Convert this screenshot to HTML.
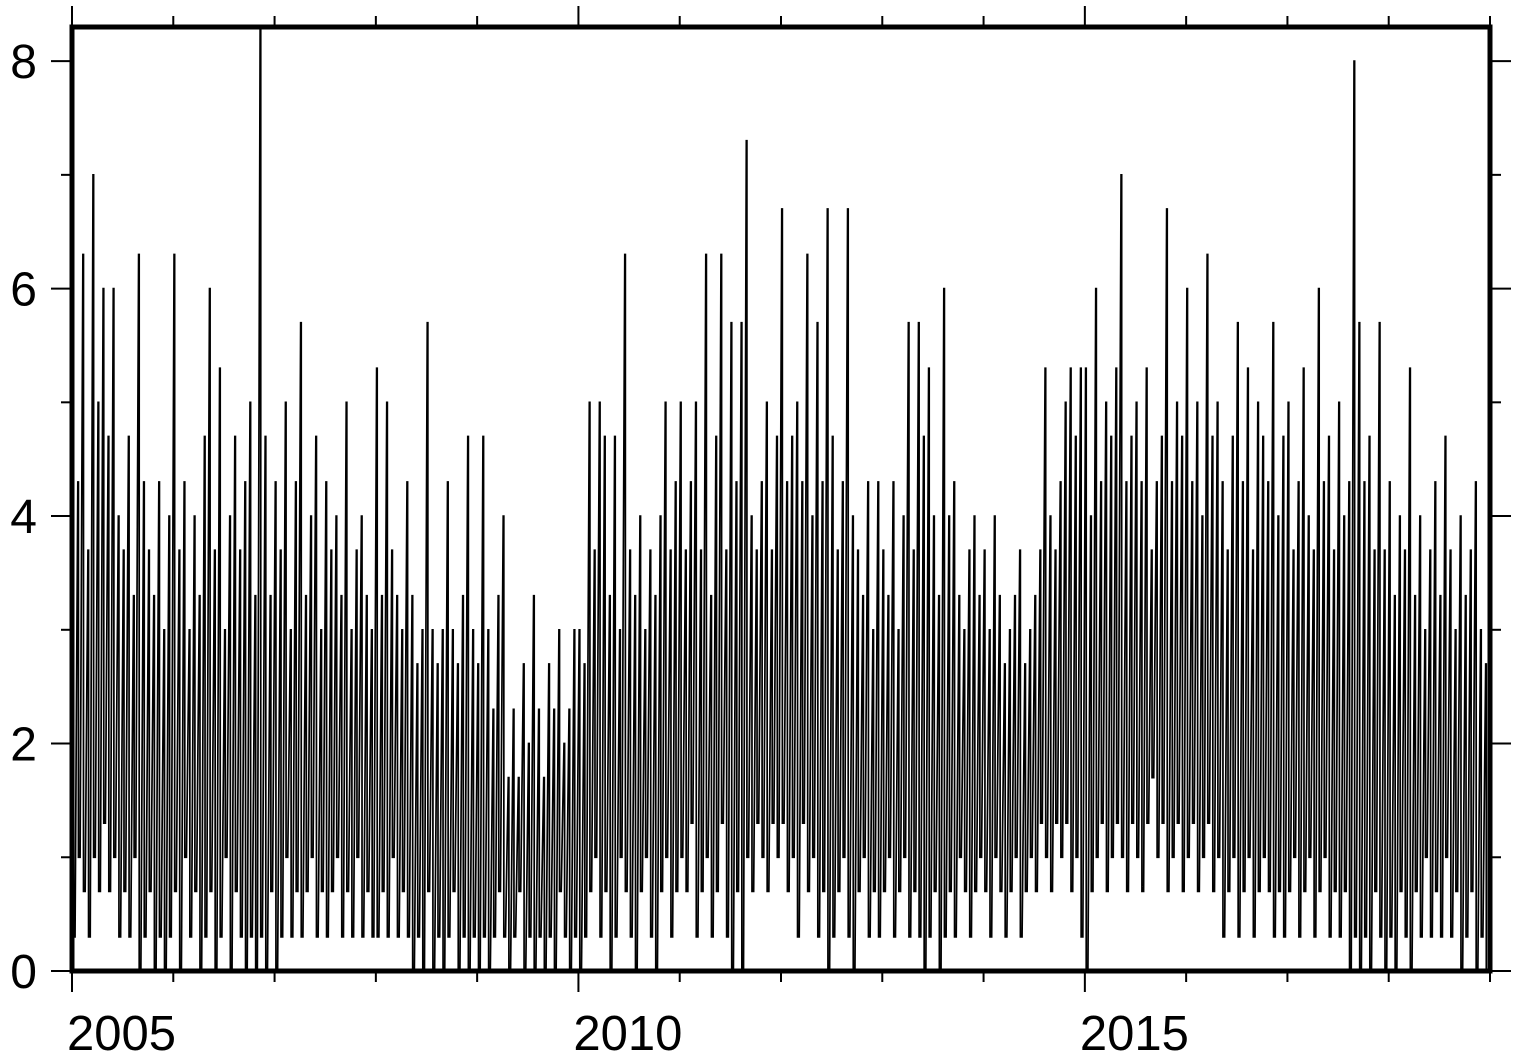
<!DOCTYPE html>
<html><head><meta charset="utf-8"><style>
html,body{margin:0;padding:0;background:#fff;}
svg{display:block;font-family:"Liberation Sans",Arial,sans-serif;}
</style></head><body>
<svg id="chart" width="1516" height="1055" viewBox="0 0 1516 1055" xmlns="http://www.w3.org/2000/svg">
<g id="plot"></g>
<g id="axes"></g>
</svg>
<script>
const xTickLabels = ["2005","2010","2015"];
const yTickLabels = ["0","2","4","6","8"];
const highs = [
7.0,4.3,6.3,3.7,7.0,5.0,6.0,4.7,6.0,4.0,3.7,4.7,3.3,6.3,4.3,3.7,3.3,4.3,3.0,4.0,
6.3,3.7,4.3,3.0,4.0,3.3,4.7,6.0,3.7,5.3,3.0,4.0,4.7,3.7,4.3,5.0,3.3,8.3,4.7,3.3,
4.3,3.7,5.0,3.0,4.3,5.7,3.3,4.0,4.7,3.0,4.3,3.7,4.0,3.3,5.0,3.0,3.7,4.0,3.3,3.0,
5.3,3.3,5.0,3.7,3.3,3.0,4.3,3.3,2.7,3.0,5.7,3.0,2.7,3.0,4.3,3.0,2.7,3.3,4.7,3.0,
2.7,4.7,3.0,2.3,3.3,4.0,1.7,2.3,1.7,2.7,2.0,3.3,2.3,1.7,2.7,2.3,3.0,2.0,2.3,3.0,
3.0,2.7,5.0,3.7,5.0,4.7,3.3,4.7,3.0,6.3,3.7,3.3,4.0,3.0,3.7,3.3,4.0,5.0,3.7,4.3,
5.0,3.7,4.3,5.0,3.7,6.3,3.3,4.7,6.3,3.7,5.7,4.3,5.7,7.3,4.0,3.7,4.3,5.0,3.7,4.7,
6.7,4.3,4.7,5.0,4.3,6.3,4.0,5.7,4.3,6.7,4.7,3.7,4.3,6.7,4.0,3.7,3.3,4.3,3.0,4.3,
3.7,3.3,4.3,3.0,4.0,5.7,3.7,5.7,4.7,5.3,4.0,3.3,6.0,4.0,4.3,3.3,3.0,3.7,4.0,3.3,
3.7,3.0,4.0,3.3,2.7,3.0,3.3,3.7,2.7,3.0,3.3,3.7,5.3,4.0,3.7,4.3,5.0,5.3,4.7,5.3,
5.3,4.0,6.0,4.3,5.0,4.7,5.3,7.0,4.3,4.7,5.0,4.3,5.3,3.7,4.3,4.7,6.7,4.3,5.0,4.7,
6.0,4.3,5.0,4.0,6.3,4.7,5.0,4.3,3.7,4.7,5.7,4.3,5.3,3.7,5.0,4.7,4.3,5.7,4.0,4.7,
5.0,3.7,4.3,5.3,4.0,3.7,6.0,4.3,4.7,3.7,5.0,4.0,4.3,8.0,5.7,4.3,4.7,3.7,5.7,3.7,
4.3,3.3,4.0,3.7,5.3,3.3,4.0,3.0,3.7,4.3,3.3,4.7,3.7,3.0,4.0,3.3,3.7,4.3,3.0,2.7];
const lows = [
0.3,1.0,0.7,0.3,1.0,0.7,1.3,0.7,1.0,0.3,0.7,0.3,1.0,0,0.3,0.7,0,0.3,0,0.3,
0.7,0,1.0,0.3,0.7,0,0.3,0.7,0,0.3,1.0,0,0.7,0.3,0,0.3,0,0.3,0,0.7,
0,0.3,1.0,0.3,0.7,0.3,0.7,1.0,0.3,0.7,0.3,0.7,1.0,0.3,0.7,0.3,1.0,0.3,0.7,0.3,
0.3,0.7,0.3,1.0,0.3,0.7,0.3,0,0.3,0,0.7,0,0.3,0,0.3,0.7,0,0.3,0,0.3,
0,0.3,0,0.3,0.7,0.3,0,0.3,0.7,0,0.3,0,0.3,0,0.3,0,0.7,0.3,0,0.3,
0,0.3,0.7,1.0,0.3,0.7,0,0.3,1.0,0.7,0.3,0,0.7,1.0,0.3,0,0.7,1.0,0.3,0.7,
1.0,0.7,1.3,0.3,0.7,1.0,0.3,0.7,1.3,0.3,0,0.7,0,1.0,0.7,1.3,1.0,0.7,1.3,1.0,
1.3,0.7,1.0,0.3,1.3,0.7,1.0,0.3,0.7,0,0.3,0.7,1.0,0.3,0,0.7,1.0,0.3,0.7,0.3,
0.7,1.0,0.3,0.7,1.0,0.3,0.7,0.3,0,0.3,0.7,0,0.3,0.7,0.3,1.0,0.7,0.3,0.7,1.0,
0.7,0.3,1.0,0.7,0.3,0.7,1.0,0.3,0.7,1.0,0.7,1.3,1.0,0.7,1.3,1.0,1.3,0.7,1.0,0.3,
0,0.7,1.0,1.3,0.7,1.0,1.3,1.0,0.7,1.3,1.0,0.7,1.3,1.7,1.0,1.3,0.7,1.0,1.3,0.7,
1.0,1.3,0.7,1.0,1.3,0.7,1.0,0.3,0.7,1.0,0.3,0.7,1.0,0.3,0.7,1.0,0.7,0.3,0.7,0.3,
0.7,1.0,0.3,0.7,1.0,0.3,0.7,1.0,0.3,0.7,0.3,0.7,0,0.3,0,0.3,0,0.7,0.3,0,
0.3,0,0.7,0.3,0,0.7,0.3,1.0,0.3,0.7,0.3,1.0,0.3,0.7,0,0.3,0.7,0,0.3,0];

const X0=72,X1=1490,Y0=971,Y1=27;
const tMin=2005,tMax=2019,vMin=0,vMax=8.3;
function xs(t){return X0+(t-tMin)/(tMax-tMin)*(X1-X0);}
function ys(v){return Y0-(v-vMin)/(vMax-vMin)*(Y0-Y1);}
const NS="http://www.w3.org/2000/svg";
const plot=document.getElementById('plot'),axes=document.getElementById('axes');
function mk(tag,attrs,parent){const e=document.createElementNS(NS,tag);for(const k in attrs)e.setAttribute(k,attrs[k]);parent.appendChild(e);return e;}

const cp=mk('clipPath',{id:'clip'},plot);
mk('rect',{x:X0,y:Y1,width:X1-X0,height:Y0-Y1},cp);
const per=highs.length/(tMax-tMin);
let d='';
for(let i=0;i<highs.length;i++){
  const t=tMin+i/per;
  const a=xs(t+0.15/per),b=xs(t+0.6/per);
  const yh=ys(highs[i]).toFixed(2),yl=ys(lows[i]).toFixed(2);
  d+=(i?'L':'M')+a.toFixed(2)+' '+yh+'L'+(a+0.6).toFixed(2)+' '+yh+'L'+(a+0.6).toFixed(2)+' '+yl+'L'+b.toFixed(2)+' '+yl;
}
const line=mk('path',{d:d,fill:'none',stroke:'#000','stroke-width':1.7,'clip-path':'url(#clip)'},plot);



const fr=mk('rect',{x:X0,y:Y1,width:X1-X0,height:Y0-Y1,fill:'none',stroke:'#000','stroke-width':5},axes);



for(let yr=tMin;yr<=tMax;yr++){
  const x=xs(yr),major=(yr%5===0);
  const L=major?21:11;
  mk('line',{x1:x,y1:Y1,x2:x,y2:Y1-L,stroke:'#000','stroke-width':2},axes);
  mk('line',{x1:x,y1:Y0,x2:x,y2:Y0+L,stroke:'#000','stroke-width':2},axes);
}
xTickLabels.forEach(s=>{
  const t=mk('text',{x:xs(+s)-5,y:1050,'font-size':49,'text-anchor':'start',fill:'#000'},axes);
  t.textContent=s;
  
  
});
for(let v=0;v<=8;v++){
  const y=ys(v),major=(v%2===0);
  const L=major?21:11;
  mk('line',{x1:X0,y1:y,x2:X0-L,y2:y,stroke:'#000','stroke-width':2},axes);
  mk('line',{x1:X1,y1:y,x2:X1+L,y2:y,stroke:'#000','stroke-width':2},axes);
}
yTickLabels.forEach(s=>{
  const t=mk('text',{x:37,y:ys(+s)+17,'font-size':48,'text-anchor':'end',fill:'#000'},axes);
  t.textContent=s;
  
  
});
</script>
</body></html>
